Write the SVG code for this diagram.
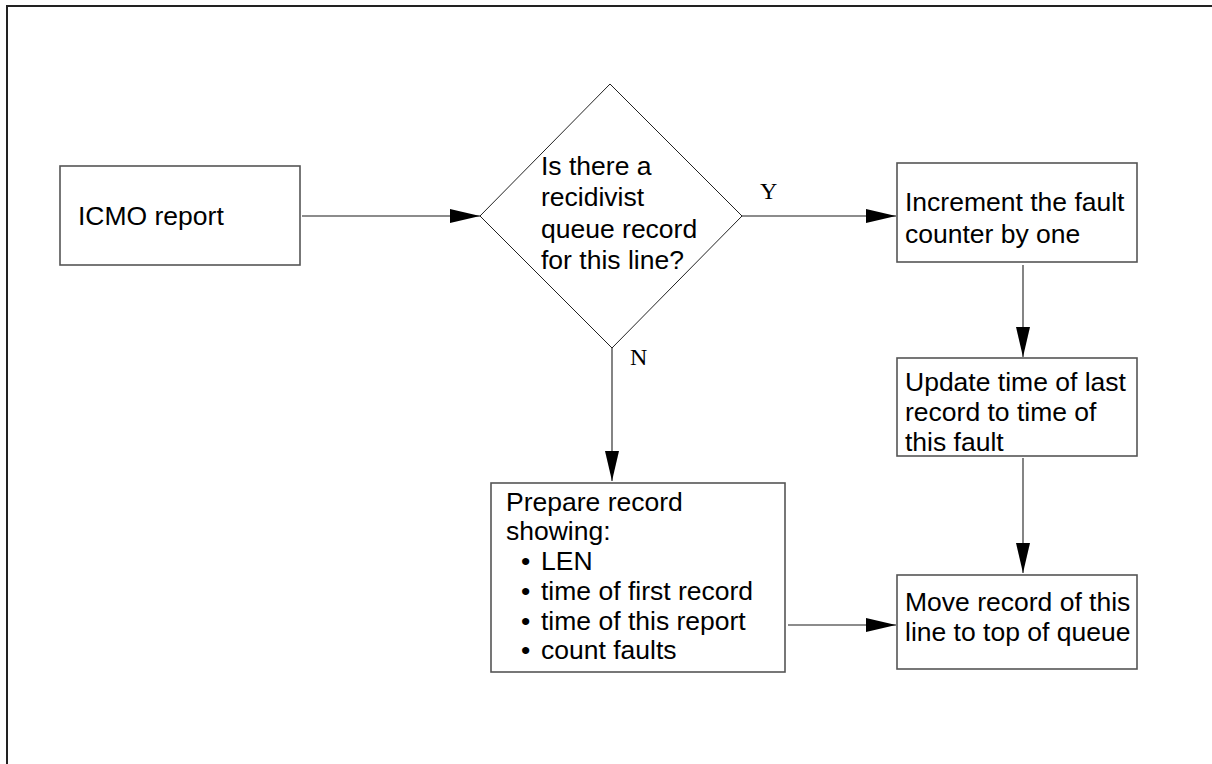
<svg xmlns="http://www.w3.org/2000/svg" width="1212" height="764" viewBox="0 0 1212 764">
<defs>
<style>
.box{fill:#fff;stroke:#555;stroke-width:1.6}
.dia{fill:#fff;stroke:#222;stroke-width:1}
.t{font-family:"Liberation Sans",Arial,sans-serif;font-size:26.5px;fill:#000}
.lbl{font-family:"Liberation Serif","Times New Roman",serif;font-size:24px;fill:#000}
.conn{stroke:#666;stroke-width:1.6;fill:none;marker-end:url(#ah)}
.frame{stroke:#222;stroke-width:2;fill:none}
</style>
<marker id="ah" markerUnits="userSpaceOnUse" markerWidth="32" markerHeight="16" refX="30" refY="7" orient="auto">
<path d="M0,0 L30,7 L0,14 Z" fill="#000"/>
</marker>
</defs>
<rect width="1212" height="764" fill="#fff"/>
<path class="frame" d="M7,764 L7,6 L1212,6"/>
<g id="connectors">
<line class="conn" x1="302" y1="216" x2="480" y2="216"/>
<line class="conn" x1="742" y1="216" x2="896" y2="216"/>
<line class="conn" x1="612" y1="348" x2="612" y2="481"/>
<line class="conn" x1="1023" y1="265" x2="1023" y2="357"/>
<line class="conn" x1="1023" y1="458" x2="1023" y2="573"/>
<line class="conn" x1="788" y1="625" x2="896" y2="625"/>
<text class="lbl" x="760" y="199">Y</text>
<text class="lbl" x="630" y="365">N</text>
</g>
<g id="icmo">
<rect class="box" x="60" y="166" width="240" height="99"/>
<text class="t" x="78" y="225">ICMO report</text>
</g>
<g id="decision">
<polygon class="dia" points="610,84 742,216 612,348 480,216"/>
<text class="t" x="541" y="175">Is there a</text>
<text class="t" x="541" y="206">recidivist</text>
<text class="t" x="541" y="238">queue record</text>
<text class="t" x="541" y="269">for this line?</text>
</g>
<g id="increment">
<rect class="box" x="897" y="163" width="240" height="99"/>
<text class="t" x="905" y="211">Increment the fault</text>
<text class="t" x="905" y="243">counter by one</text>
</g>
<g id="update">
<rect class="box" x="897" y="358" width="240" height="98"/>
<text class="t" x="905" y="391">Update time of last</text>
<text class="t" x="905" y="421">record to time of</text>
<text class="t" x="905" y="451">this fault</text>
</g>
<g id="move">
<rect class="box" x="897" y="575" width="240" height="94"/>
<text class="t" x="905" y="611">Move record of this</text>
<text class="t" x="905" y="641">line to top of queue</text>
</g>
<g id="prepare">
<rect class="box" x="491" y="483" width="294" height="189"/>
<text class="t" x="506" y="511">Prepare record</text>
<text class="t" x="506" y="540">showing:</text>
<text class="t" x="521" y="570">•</text>
<text class="t" x="521" y="600">•</text>
<text class="t" x="521" y="630">•</text>
<text class="t" x="521" y="659">•</text>
<text class="t" x="541" y="570">LEN</text>
<text class="t" x="541" y="600">time of first record</text>
<text class="t" x="541" y="630">time of this report</text>
<text class="t" x="541" y="659">count faults</text>
</g>
</svg>
